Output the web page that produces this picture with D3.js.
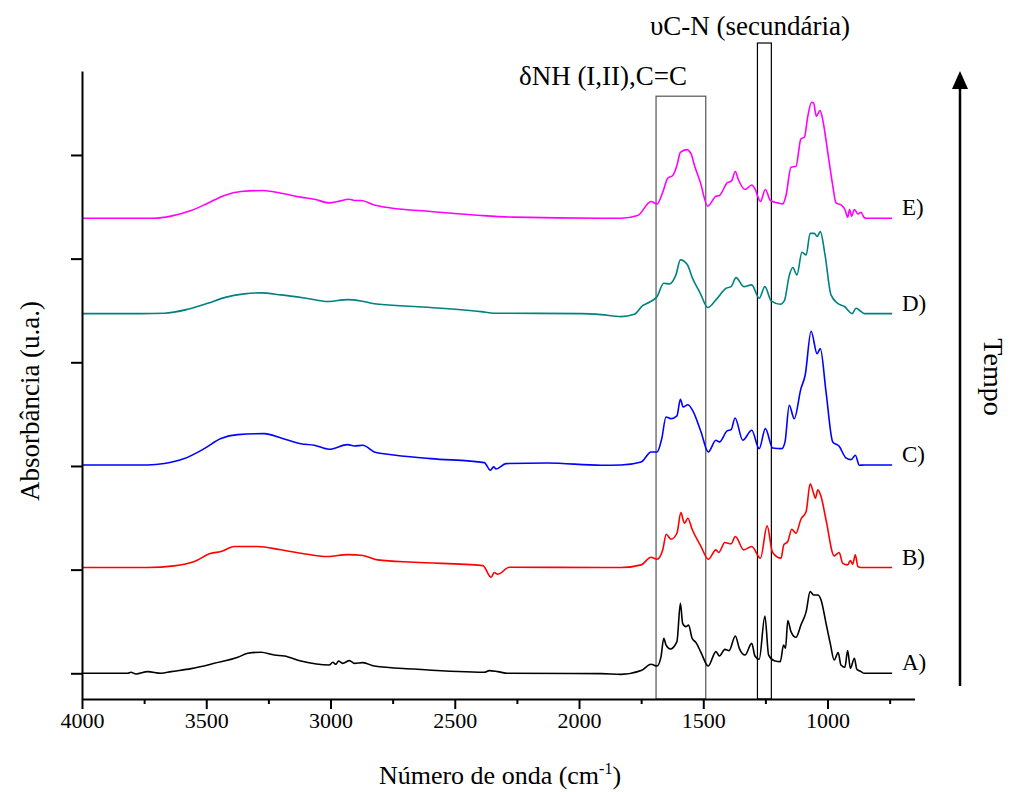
<!DOCTYPE html>
<html>
<head>
<meta charset="utf-8">
<script src="https://cdnjs.cloudflare.com/ajax/libs/d3/7.8.5/d3.min.js"></script>
<style>
  body { margin: 0; background: #fff; }
  svg text { font-family: "Liberation Serif", "Times New Roman", Times, "DejaVu Serif", serif; fill: #000; }
</style>
</head>
<body>
<svg id="chart" width="1011" height="792"></svg>
<script>
// FTIR spectra, [wavenumber, absorbance above own baseline]
const specA = [[4000,0],[3816,0],[3803,0.01],[3783,-0.007],[3736,0.016],[3682,0],[3642,0.016],[3561,0.045],[3468,0.096],[3373,0.154],[3333,0.193],[3280,0.203],[3226,0.176],[3186,0.167],[3119,0.119],[3005,0.08],[2991,0.106],[2978,0.087],[2968,0.119],[2951,0.096],[2924,0.122],[2904,0.096],[2870,0.103],[2824,0.07],[2663,0.041],[2381,0.01],[2361,0.026],[2327,0.016],[2287,0],[1911,-0.003],[1831,-0.01],[1750,0.026],[1710,0.087],[1686,0.07],[1670,0.161],[1659,0.338],[1650,0.273],[1633,0.234],[1606,0.306],[1592,0.675],[1583,0.482],[1570,0.45],[1559,0.466],[1545,0.338],[1529,0.296],[1509,0.2],[1480,0.07],[1449,0.209],[1435,0.167],[1413,0.231],[1396,0.219],[1371,0.36],[1355,0.241],[1332,0.176],[1305,0.289],[1292,0.167],[1275,0.135],[1252,0.553],[1237,0.176],[1214,0.122],[1190,0.113],[1177,0.273],[1169,0.241],[1160,0.508],[1147,0.402],[1127,0.347],[1107,0.466],[1086,0.595],[1070,0.788],[1056,0.755],[1039,0.755],[1026,0.707],[1006,0.482],[989,0.289],[973,0.128],[957,0.2],[946,0.08],[930,0.058],[919,0.219],[908,0.048],[892,0.145],[882,0.039],[865,0.016],[852,0],[740,0]]

const specB = [[4000,0],[3736,0],[3629,0.016],[3548,0.058],[3481,0.138],[3441,0.154],[3387,0.203],[3293,0.203],[3199,0.171],[3119,0.138],[3011,0.106],[2931,0.125],[2870,0.116],[2810,0.074],[2663,0.051],[2387,0.019],[2354,-0.094],[2341,-0.048],[2327,-0.065],[2280,0.003],[1911,0],[1831,0],[1750,0.026],[1710,0.099],[1686,0.08],[1663,0.171],[1649,0.321],[1630,0.273],[1606,0.331],[1590,0.53],[1576,0.427],[1562,0.475],[1545,0.369],[1509,0.203],[1480,0.08],[1449,0.171],[1438,0.145],[1413,0.241],[1388,0.229],[1371,0.299],[1337,0.171],[1305,0.203],[1270,0.09],[1243,0.402],[1221,0.145],[1187,0.09],[1176,0.219],[1160,0.251],[1144,0.369],[1127,0.331],[1107,0.466],[1086,0.54],[1070,0.807],[1056,0.716],[1049,0.668],[1039,0.749],[1026,0.685],[1006,0.46],[973,0.113],[953,0.145],[939,0.041],[919,0.026],[908,0.068],[899,0.032],[888,0.122],[878,0.01],[865,0],[740,0]]

const specC = [[4000,0],[3736,0],[3669,0.013],[3588,0.061],[3508,0.157],[3441,0.254],[3373,0.292],[3266,0.302],[3199,0.26],[3119,0.205],[3065,0.19],[3005,0.151],[2931,0.196],[2904,0.183],[2870,0.19],[2824,0.125],[2770,0.103],[2596,0.061],[2381,0.022],[2357,-0.051],[2343,-0.019],[2334,-0.039],[2294,0.013],[2126,0.019],[1911,-0.003],[1831,0],[1750,0.029],[1710,0.125],[1686,0.125],[1667,0.254],[1650,0.463],[1630,0.446],[1606,0.473],[1592,0.634],[1581,0.559],[1562,0.581],[1543,0.527],[1509,0.318],[1480,0.125],[1449,0.238],[1435,0.222],[1404,0.328],[1388,0.34],[1372,0.453],[1341,0.238],[1305,0.335],[1275,0.157],[1250,0.35],[1221,0.164],[1184,0.157],[1171,0.222],[1154,0.576],[1134,0.446],[1107,0.736],[1090,0.865],[1066,1.289],[1042,1.073],[1029,1.122],[1006,0.704],[979,0.222],[953,0.18],[926,0.068],[905,0.051],[888,0.094],[872,-0.003],[852,0],[740,0]]

const specD = [[4000,0],[3763,0],[3669,0.003],[3575,0.041],[3494,0.099],[3427,0.154],[3347,0.19],[3280,0.2],[3199,0.18],[3092,0.145],[3011,0.116],[2931,0.135],[2877,0.122],[2824,0.094],[2663,0.068],[2394,0.019],[2341,0.003],[1992,0],[1911,-0.01],[1831,-0.029],[1778,-0.007],[1744,0.077],[1717,0.109],[1686,0.164],[1659,0.292],[1637,0.286],[1610,0.373],[1592,0.518],[1565,0.475],[1543,0.34],[1512,0.196],[1482,0.058],[1449,0.132],[1408,0.244],[1388,0.26],[1368,0.347],[1337,0.26],[1305,0.277],[1275,0.148],[1252,0.26],[1227,0.122],[1190,0.09],[1174,0.122],[1154,0.366],[1140,0.444],[1123,0.373],[1103,0.591],[1086,0.566],[1070,0.774],[1053,0.774],[1042,0.743],[1029,0.791],[1010,0.566],[986,0.18],[959,0.099],[932,0.068],[901,0],[885,0.051],[865,0.019],[852,0],[740,0]]

const specE = [[4000,0],[3709,0],[3642,0.02],[3561,0.074],[3494,0.145],[3427,0.219],[3360,0.257],[3273,0.267],[3199,0.241],[3119,0.203],[3065,0.183],[3005,0.148],[2971,0.161],[2924,0.183],[2904,0.171],[2877,0.171],[2824,0.128],[2757,0.099],[2596,0.065],[2394,0.026],[2262,0.01],[1911,0],[1831,0],[1764,0.026],[1710,0.161],[1686,0.138],[1663,0.251],[1643,0.386],[1623,0.412],[1606,0.508],[1592,0.636],[1567,0.662],[1549,0.62],[1536,0.514],[1512,0.347],[1482,0.116],[1449,0.212],[1435,0.219],[1404,0.34],[1386,0.36],[1371,0.45],[1359,0.373],[1332,0.277],[1305,0.321],[1292,0.283],[1270,0.161],[1250,0.277],[1230,0.171],[1200,0.148],[1180,0.138],[1167,0.219],[1147,0.492],[1127,0.501],[1107,0.765],[1093,0.781],[1080,0.974],[1064,1.119],[1056,1.112],[1045,0.984],[1030,1.039],[1020,0.958],[999,0.636],[979,0.315],[966,0.148],[946,0.128],[930,0.084],[919,0.01],[911,0.084],[903,0.019],[892,0.084],[878,0.041],[865,0.058],[854,0.01],[845,0],[740,0]]

const spectra = [specA, specB, specC, specD, specE]
const offsets = [0, 1.02, 2.01, 3.47, 4.39]
const labels = ['A)', 'B)', 'C)', 'D)', 'E)']
const colors = ['#000000', '#ff0000', '#0000ff', '#008080', '#ff00ff']

const majorTicks = [4000, 3500, 3000, 2500, 2000, 1500, 1000]
const minorTicks = [3750, 3250, 2750, 2250, 1750, 1250, 750]
const yTicks = [0, 1, 2, 3, 4, 5]

// marked regions: [from, to, top]
const boxes = [[1690, 1490, 5.567], [1282, 1226, 6.08]]
const boxColors = ['#555555', '#000000']

const font = '"Liberation Serif", "Times New Roman", Times, "DejaVu Serif", serif'

const svg = d3.select('#chart')

const x = d3.scaleLinear().domain([4000, 650]).range([82, 914.5])
const y = d3.scaleLinear().domain([-0.248, 5.81]).range([699, 71])

// boxes behind the curves
svg.selectAll('rect.box')
   .data(boxes)
   .enter()
   .append('rect')
   .attr('class', 'box')
   .attr('x', d => x(d[0]))
   .attr('y', d => y(d[2]))
   .attr('width', d => x(d[1]) - x(d[0]))
   .attr('height', d => y(-0.248) - y(d[2]))
   .attr('fill', 'none')
   .attr('stroke', (d, i) => boxColors[i])
   .attr('stroke-width', 1.2)

const line = d3.line()
   .x(d => x(d[0]))
   .y(d => y(d[1]))
   .curve(d3.curveMonotoneX)

svg.selectAll('path.spec')
   .data(spectra)
   .enter()
   .append('path')
   .attr('class', 'spec')
   .attr('d', (d, i) => line(d.map(p => [p[0], p[1] + offsets[i]])))
   .attr('fill', 'none')
   .attr('stroke', (d, i) => colors[i])
   .attr('stroke-width', 1.6)
   .attr('stroke-linejoin', 'round')

// axes
const xAxis = svg.append('g')
   .attr('transform', 'translate(0,699)')
   .call(d3.axisBottom(x).tickValues(majorTicks).tickSize(10).tickSizeOuter(0).tickFormat(d3.format('d')))
xAxis.select('.domain').attr('stroke-width', 2)
xAxis.selectAll('.tick line').attr('stroke-width', 2)
xAxis.selectAll('text').attr('font-size', 22)

const xMinor = svg.append('g')
   .attr('transform', 'translate(0,699)')
   .call(d3.axisBottom(x).tickValues(minorTicks).tickSize(5).tickSizeOuter(0).tickFormat(''))
xMinor.select('.domain').remove()
xMinor.selectAll('.tick line').attr('stroke-width', 2)

const yAxis = svg.append('g')
   .attr('transform', 'translate(82,0)')
   .call(d3.axisLeft(y).tickValues(yTicks).tickSize(11).tickSizeOuter(0).tickFormat(''))
yAxis.select('.domain').attr('stroke-width', 2)
yAxis.selectAll('.tick line').attr('stroke-width', 2)

// series labels
svg.selectAll('text.lab')
   .data(labels)
   .enter()
   .append('text')
   .attr('class', 'lab')
   .attr('x', 902)
   .attr('y', (d, i) => y(offsets[i]) - 3)
   .attr('font-size', 23)
   .text(d => d)

// axis titles
const xTitle = svg.append('text')
   .attr('x', 500)
   .attr('y', 784)
   .attr('text-anchor', 'middle')
   .attr('font-size', 26)
xTitle.append('tspan').text('Número de onda (cm')
xTitle.append('tspan').attr('font-size', 16).attr('dy', -10).text('-1')
xTitle.append('tspan').attr('dy', 10).text(')')

svg.append('text')
   .attr('transform', 'translate(39,401) rotate(-90)')
   .attr('text-anchor', 'middle')
   .attr('font-size', 27)
   .text('Absorbância (u.a.)')

// annotations
svg.append('text')
   .attr('x', 603)
   .attr('y', 85)
   .attr('text-anchor', 'middle')
   .attr('font-size', 27)
   .text('δNH (I,II),C=C')

svg.append('text')
   .attr('x', 750)
   .attr('y', 35)
   .attr('text-anchor', 'middle')
   .attr('font-size', 27)
   .text('υC-N (secundária)')

// time arrow
svg.append('line')
   .attr('x1', 960).attr('x2', 960)
   .attr('y1', 686).attr('y2', 86)
   .attr('stroke', '#000')
   .attr('stroke-width', 2.5)
svg.append('path')
   .attr('d', 'M960,71 L952,89 L968,89 Z')
   .attr('fill', '#000')

svg.append('text')
   .attr('transform', 'translate(984,377) rotate(90)')
   .attr('text-anchor', 'middle')
   .attr('font-size', 28)
   .text('Tempo')

svg.selectAll('text').style('font-family', font)
</script>
</body>
</html>
